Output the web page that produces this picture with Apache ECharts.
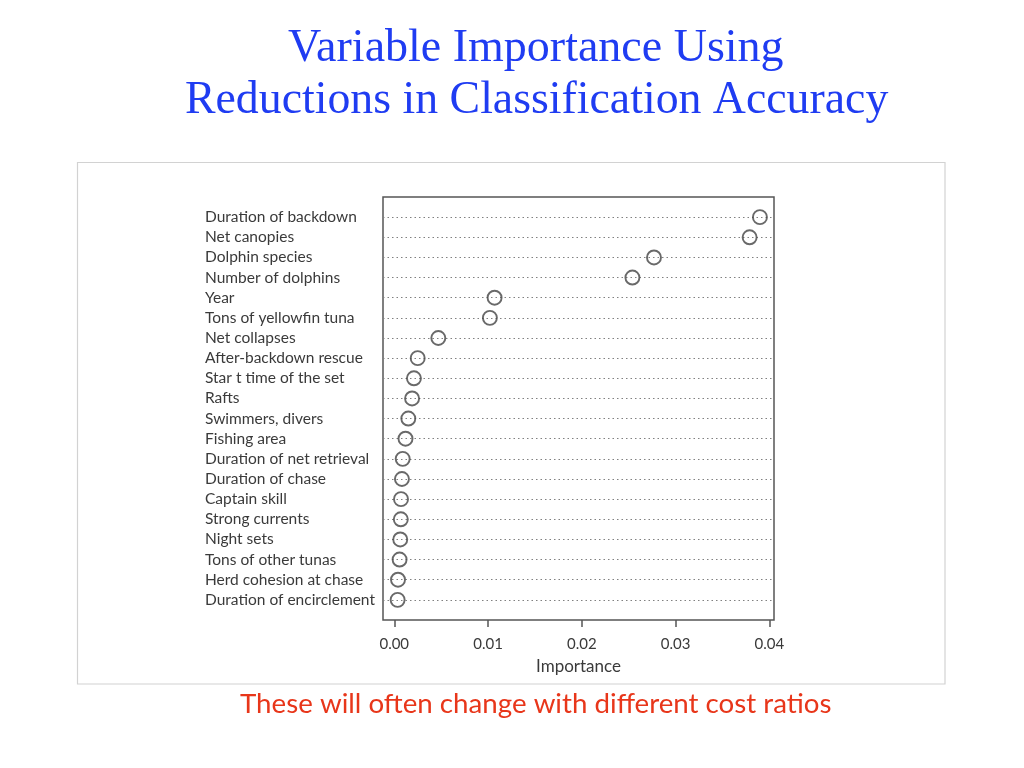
<!DOCTYPE html>
<html>
<head>
<meta charset="utf-8">
<script src="https://cdn.jsdelivr.net/npm/echarts@6/dist/echarts.min.js"></script>
<style>
html,body{margin:0;padding:0;background:#fff;}
#chart{width:1024px;height:768px;}
</style>
</head>
<body>
<div id="chart"></div>
<script>
var categories = [
  "Duration of backdown",
  "Net canopies",
  "Dolphin species",
  "Number of dolphins",
  "Year",
  "Tons of yellowfin tuna",
  "Net collapses",
  "After-backdown rescue",
  "Star t time of the set",
  "Rafts",
  "Swimmers, divers",
  "Fishing area",
  "Duration of net retrieval",
  "Duration of chase",
  "Captain skill",
  "Strong currents",
  "Night sets",
  "Tons of other tunas",
  "Herd cohesion at chase",
  "Duration of encirclement"
];
var importance = [
  0.0390, 0.0379, 0.0277, 0.0254, 0.0107, 0.0102, 0.0047, 0.0025, 0.0021, 0.0019,
  0.0015, 0.0012, 0.0009, 0.00082, 0.00072, 0.0007, 0.00064, 0.00057, 0.0004, 0.00036
];
var xTicks = [0, 0.01, 0.02, 0.03, 0.04];
var titleLines = ["Variable Importance Using", "Reductions in Classification Accuracy"];
var footnote = "These will often change with different cost ratios";

var points = importance.map(function (v, i) { return [v, i + 1]; });

var chart = echarts.init(document.getElementById('chart'));
chart.setOption({
  animation: false,
  backgroundColor: '#ffffff',
  title: [
    { text: titleLines[0], left: 283, top: 21,
      textStyle: { fontFamily: 'Liberation Serif', fontSize: 46, fontWeight: 'normal', color: '#1f3cf2' } },
    { text: titleLines[1], left: 180, top: 73,
      textStyle: { fontFamily: 'Liberation Serif', fontSize: 45.8, fontWeight: 'normal', color: '#1f3cf2' } },
    { text: footnote, left: 235, top: 685,
      textStyle: { fontFamily: 'Lato', fontSize: 27.7, fontWeight: 'normal', color: '#e8361a' } }
  ],
  graphic: [
    { type: 'rect', z: -10, silent: true,
      shape: { x: 77.5, y: 162.5, width: 867.5, height: 521.5 },
      style: { fill: 'none', stroke: '#d2d2d2', lineWidth: 1.2 } }
  ],
  grid: {
    left: 383, right: 250, top: 197, bottom: 148,
    show: true, borderColor: '#555', borderWidth: 1.5, backgroundColor: 'transparent'
  },
  xAxis: {
    type: 'value',
    position: 'bottom',
    min: -0.0012, max: 0.0405,
    axisLine: { show: false, onZero: false },
    splitLine: { show: false },
    axisTick: { show: true, customValues: xTicks, length: 7, lineStyle: { color: '#555', width: 1.5 } },
    axisLabel: {
      customValues: xTicks, margin: 17,
      formatter: function (v) { return v.toFixed(2); },
      fontFamily: 'Lato', fontSize: 15, color: '#3a3a3a'
    },
    name: 'Importance', nameLocation: 'middle', nameGap: 38,
    nameTextStyle: { fontFamily: 'Lato', fontSize: 17, color: '#3a3a3a' }
  },
  yAxis: {
    type: 'value', inverse: true,
    min: 0, max: 21, interval: 1,
    axisLine: { show: false, onZero: false },
    axisTick: { show: false },
    splitLine: { show: true, showMinLine: false, showMaxLine: false,
      lineStyle: { type: [1.5, 3], color: '#808080', width: 1 } },
    axisLabel: {
      showMinLabel: false, showMaxLabel: false,
      align: 'left', margin: 178,
      formatter: function (v) { return categories[v - 1] || ''; },
      fontFamily: 'Lato', fontSize: 15.5, color: '#3a3a3a'
    }
  },
  series: [{
    type: 'scatter',
    data: points,
    symbol: 'circle',
    symbolSize: 14,
    itemStyle: { color: 'rgba(0,0,0,0)', borderColor: '#444', borderWidth: 1.9 }
  }]
});
</script>
</body>
</html>
